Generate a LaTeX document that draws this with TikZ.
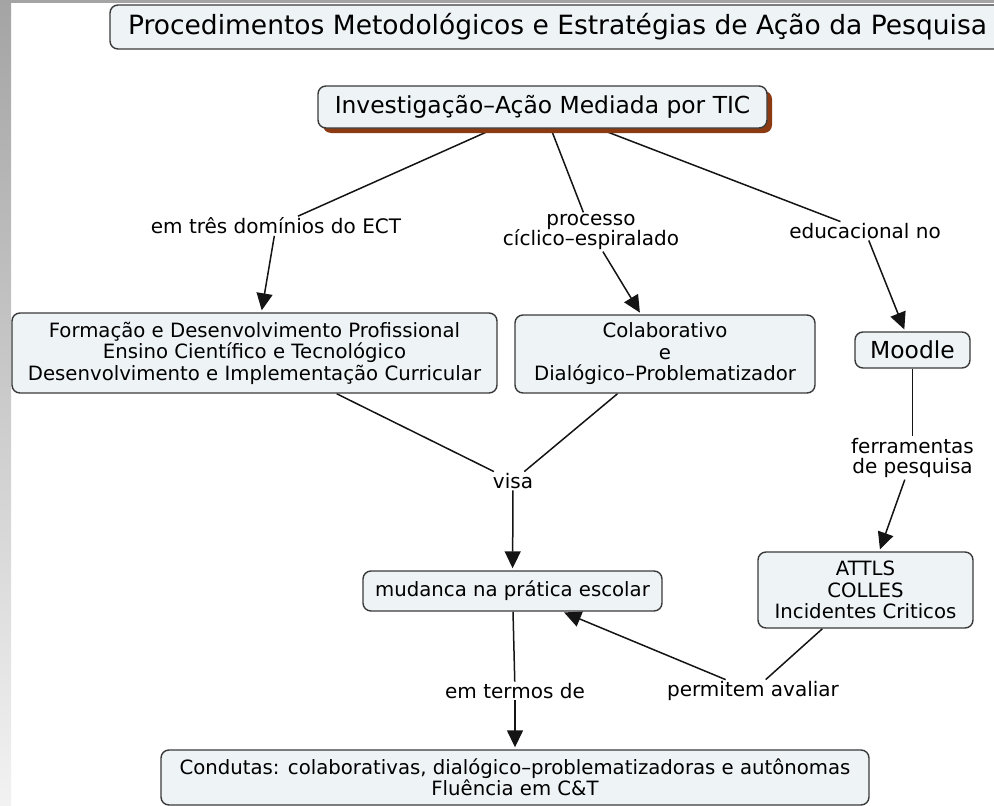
\documentclass[tikz,border=0pt]{standalone}
\usepackage{fontspec}
\setmainfont{DejaVu Sans}
\usetikzlibrary{arrows.meta,shadows,backgrounds}
\definecolor{conceptfill}{HTML}{EEF3F6}
\definecolor{conceptline}{HTML}{3A3A3A}
\definecolor{linkcolor}{HTML}{141414}
\definecolor{rootshadow}{HTML}{8C3A12}
\definecolor{stripgray}{HTML}{A4A4A4}
\begin{document}
\begin{tikzpicture}[x=1pt, y=-1pt,
    concept/.style={draw=conceptline, line width=1.4pt, fill=conceptfill, rounded corners=8pt,
        align=center, inner sep=0pt, font=\fontsize{19.7}{21.5}\selectfont},
    linkword/.style={align=center, inner sep=1.5pt, font=\fontsize{20}{20.5}\selectfont},
    link/.style={line width=1.5pt, linkcolor},
    linkto/.style={link, -{Triangle[length=17pt, width=16pt]}, shorten >=2pt}]
    \path[use as bounding box, clip] (0,0) rectangle (994,806);

    % grey frame of the screenshot
    \shade[top color=stripgray, bottom color=gray!10] (0,0) rectangle (11,806);
    \fill[stripgray] (0,0) rectangle (994,3);

    % concepts
    \node[concept, minimum width=895pt, minimum height=44pt, font=\fontsize{26.5}{28}\selectfont]
        (title) at (557.5,27) {Procedimentos Metodológicos e Estratégias de Ação da Pesquisa};
    \node[concept, minimum width=449pt, minimum height=42pt, font=\fontsize{23.4}{25}\selectfont,
        drop shadow={shadow xshift=5pt, shadow yshift=-5pt, fill=rootshadow, opacity=1}]
        (tic) at (542.5,107) {Investigação–Ação Mediada por TIC};
    \node[concept, minimum width=485pt, minimum height=80pt] (form) at (254.5,353)
        {Formação e Desenvolvimento Profissional\\Ensino Científico e Tecnológico\\Desenvolvimento e Implementação Curricular};
    \node[concept, minimum width=300pt, minimum height=78pt] (colab) at (665,354)
        {Colaborativo\\e\\Dialógico–Problematizador};
    \node[concept, minimum width=115pt, minimum height=36pt, font=\fontsize{23.4}{25}\selectfont]
        (moodle) at (912.5,350) {Moodle};
    \node[concept, minimum width=299pt, minimum height=40pt] (mud) at (512.5,591)
        {mudanca na prática escolar};
    \node[concept, minimum width=215pt, minimum height=76pt] (attls) at (865.5,590)
        {ATTLS\\COLLES\\Incidentes Criticos};
    \node[concept, minimum width=708pt, minimum height=55pt] (cond) at (515,777.5)
        {Condutas: colaborativas, dialógico–problematizadoras e autônomas\\Fluência em C\&T};

    % linking words
    \node[linkword] (ect) at (276,226) {em três domínios do ECT};
    \node[linkword] (ciclo) at (591,232) {processo\\cíclico–espiralado};
    \node[linkword] (edu) at (865,231) {educacional no};
    \node[linkword] (visa) at (513,481) {visa};
    \node[linkword] (ferr) at (912.5,458) {ferramentas\\de pesquisa};
    \node[linkword] (termos) at (515,691) {em termos de};
    \node[linkword] (aval) at (753,691) {permitem avaliar};

    % links
    \begin{scope}[on background layer]
        \draw[link] (tic) -- (ect);
        \draw[linkto] (ect) -- (form);
        \draw[link] (tic) -- (ciclo);
        \draw[linkto] (ciclo) -- (colab);
        \draw[link] (tic) -- (edu);
        \draw[linkto] (edu) -- (moodle);
        \draw[link] (form) -- (visa);
        \draw[link] (colab) -- (visa);
        \draw[linkto] (visa) -- (mud);
        \draw[link] (moodle) -- (ferr);
        \draw[linkto] (ferr) -- (attls);
        \draw[link] (attls) -- (aval);
        \draw[linkto] (aval) -- (mud);
        \draw[link] (mud) -- (termos);
        \draw[linkto] (termos) -- (cond);
    \end{scope}
\end{tikzpicture}
\end{document}
